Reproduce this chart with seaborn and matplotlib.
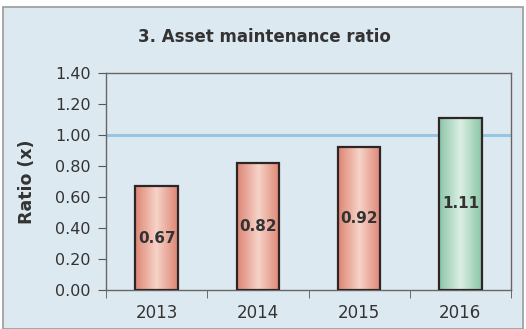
import numpy as np
import pandas as pd
import matplotlib
matplotlib.use("Agg")
import matplotlib.pyplot as plt
from matplotlib.patches import Rectangle
from matplotlib.colors import LinearSegmentedColormap
import seaborn as sns

# Data
years = ["2013", "2014", "2015", "2016"]
ratios = [0.67, 0.82, 0.92, 1.11]
benchmark = 1.00
yticks = [0.0, 0.2, 0.4, 0.6, 0.8, 1.0, 1.2, 1.4]

df = pd.DataFrame({"year": years, "ratio": ratios})

sns.set_style("white")
plt.rcParams["font.family"] = ["DejaVu Sans"]

bg = "#dde9f0"
fig = plt.figure(figsize=(5.26, 3.29), dpi=100)
fig.patch.set_facecolor("white")
# panel background with border
fig.patches.append(Rectangle((3 / 526, 0.0), 520 / 526, 1 - 7 / 329,
                             transform=fig.transFigure, facecolor=bg,
                             edgecolor="#9a9a9a", linewidth=1.2, zorder=-1))

ax = fig.add_axes([106 / 526, 1 - 290 / 329, 405 / 526, 217 / 329])
ax.set_facecolor("none")

bar_colors = ["#e9a595", "#e9a595", "#e9a595", "#b6dcc6"]
sns.barplot(data=df, x="year", y="ratio", hue="year", palette=bar_colors,
            legend=False, width=0.42, edgecolor="#2e2626", linewidth=1.6,
            saturation=1, ax=ax, zorder=3)

# horizontal gradient inside each bar (darker edges, lighter centre)
shade_sets = {
    "red": ["#de8674", "#f6d3c8", "#de8674"],
    "green": ["#8cc6a8", "#dcefe4", "#8cc6a8"],
}
grad = np.linspace(0, 1, 64).reshape(1, -1)
for i, patch in enumerate(list(ax.patches)):
    key = "green" if i == 3 else "red"
    cmap = LinearSegmentedColormap.from_list(key, shade_sets[key])
    x0, y0 = patch.get_x(), patch.get_y()
    w, h = patch.get_width(), patch.get_height()
    im = ax.imshow(grad, cmap=cmap, extent=[x0, x0 + w, y0, y0 + h],
                   aspect="auto", zorder=3.5)
    im.set_clip_path(patch)
    patch.set_facecolor("none")
    patch.set_zorder(4)

ax.axhline(benchmark, color="#97c6e4", linewidth=2.2, zorder=2)

for i, v in enumerate(ratios):
    ax.text(i, v / 2, f"{v:.2f}", ha="center", va="center",
            fontsize=11, fontweight="bold", color="#333333", zorder=5)

ax.set_xlim(-0.5, 3.5)
ax.set_ylim(0, 1.4)
ax.set_yticks(yticks)
ax.set_yticklabels([f"{t:.2f}" for t in yticks])
ax.set_xticks(range(len(years)))
ax.set_xticklabels(years)
ax.set_xticks(np.arange(-0.5, 4.0, 1.0), minor=True)
ax.tick_params(axis="x", which="major", length=0, pad=10,
               labelsize=12, labelcolor="#333333")
ax.tick_params(axis="x", which="minor", length=6, color="#555555",
               direction="out", bottom=True)
ax.tick_params(axis="y", length=6, color="#555555", direction="out",
               left=True, labelsize=11.5, labelcolor="#333333", pad=5)

for side in ["left", "right", "top", "bottom"]:
    ax.spines[side].set_visible(True)
    ax.spines[side].set_color("#666666")
    ax.spines[side].set_linewidth(1.0)

ax.set_xlabel("")
ax.set_ylabel("Ratio (x)", fontsize=12.5, fontweight="bold",
              color="#333333", labelpad=14)

fig.text(264 / 526, 1 - 37 / 329, "3. Asset maintenance ratio",
         ha="center", va="center", fontsize=12, fontweight="bold",
         color="#333333")

fig.savefig("out.png", dpi=100, facecolor=fig.get_facecolor())
